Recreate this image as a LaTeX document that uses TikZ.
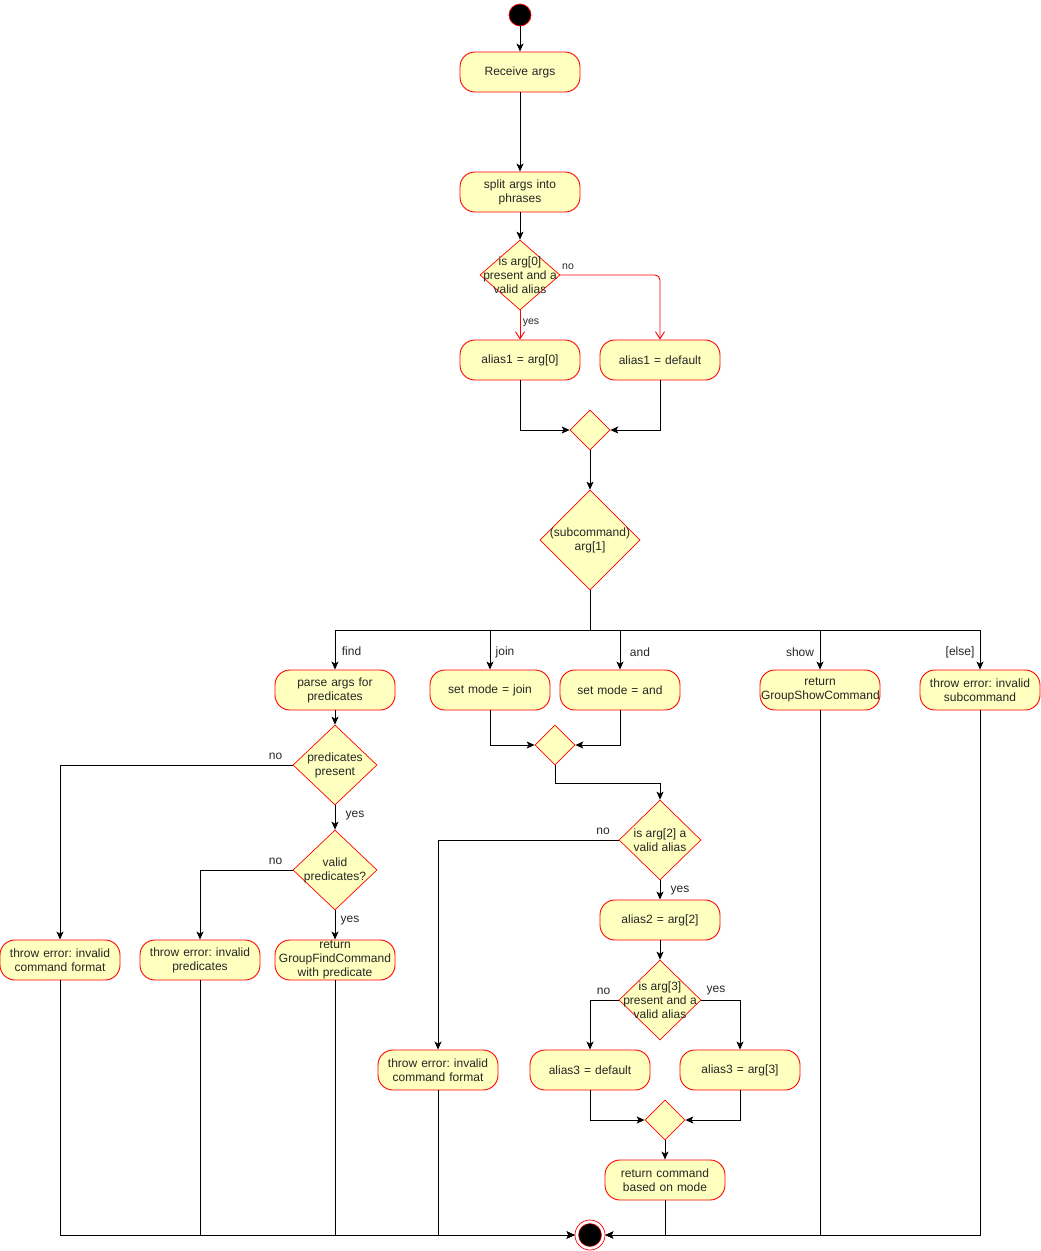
\documentclass[tikz,border=0pt]{standalone}
\usepackage{fontspec}
\setmainfont{Liberation Sans}
\frenchspacing
\usetikzlibrary{arrows.meta, shapes.geometric, positioning}
\definecolor{actFill}{HTML}{FFFFC0}
\definecolor{actLine}{HTML}{FF0000}
\definecolor{mainText}{gray}{0.15}

\begin{document}
\begin{tikzpicture}[x=1pt, y=-1pt, >={Stealth[length=8pt, width=7pt, inset=2pt]},
    action/.style={draw=actLine, fill=actFill, line width=0.9pt, rounded corners=15pt,
        minimum width=120pt, minimum height=40pt, text width=118pt, inner xsep=1pt, inner ysep=0pt,
        align=center, font=\fontsize{12}{14}\selectfont, text=mainText},
    decision/.style={diamond, draw=actLine, fill=actFill, line width=0.7pt, inner sep=0pt},
    dtext/.style={align=center, inner sep=0pt, font=\fontsize{12}{14}\selectfont, text=mainText},
    flow/.style={->, line width=0.9pt},
    guard/.style={-{Straight Barb[length=7pt, width=9pt]}, actLine, line width=0.9pt},
    lbl/.style={inner sep=0pt, font=\fontsize{12}{14}\selectfont, text=mainText},
    small lbl/.style={lbl, font=\fontsize{10.5}{12}\selectfont}]
    \useasboundingbox (0,0) rectangle (1041,1251);

    % Start and first steps
    \node[circle, fill=black, draw=actLine, line width=0.7pt, minimum size=22pt, inner sep=0pt] (start) at (520,15) {};
    \node[action] (recv) at (520,72) {Receive args};
    \node[action] (split) at (520,192) {split args into\\phrases};

    % First alias
    \node[decision, minimum width=80pt, minimum height=70pt] (d1) at (520,275) {};
    \node[dtext] (d1t) at (d1) {is arg[0]\\present and a\\valid alias};
    \node[action] (a1arg) at (520,360) {alias1 = arg[0]};
    \node[action] (a1def) at (660,360) {alias1 = default};
    \node[decision, minimum width=40pt, minimum height=40pt] (m1) at (590,430) {};

    % Subcommand
    \node[decision, minimum width=100pt, minimum height=100pt] (sub) at (590,540) {};
    \node[dtext] (subt) at (sub) {(subcommand)\\arg[1]};
    \coordinate (bus) at (590,630);
    \node[action] (parse) at (335,690) {parse args for\\predicates};
    \node[action] (modejoin) at (490,690) {set mode = join};
    \node[action] (modeand) at (620,690) {set mode = and};
    \node[action] (showcmd) at (820,690) {return\\GroupShowCommand};
    \node[action] (badsub) at (980,690) {throw error: invalid\\subcommand};

    % Find branch
    \node[decision, minimum width=84pt, minimum height=80pt] (pp) at (335,765) {};
    \node[dtext] (ppt) at (pp) {predicates\\present};
    \node[decision, minimum width=84pt, minimum height=80pt] (vp) at (335,870) {};
    \node[dtext] (vpt) at (vp) {valid\\predicates?};
    \node[action] (badfmt) at (60,960) {throw error: invalid\\command format};
    \node[action] (badpred) at (200,960) {throw error: invalid\\predicates};
    \node[action] (findcmd) at (335,960) {return\\GroupFindCommand\\with predicate};

    % Join / and branch
    \node[decision, minimum width=40pt, minimum height=40pt] (m2) at (555,745) {};
    \node[decision, minimum width=82pt, minimum height=80pt] (d3) at (660,840) {};
    \node[dtext] (d3t) at (d3) {is arg[2] a\\valid alias};
    \node[action] (a2arg) at (660,920) {alias2 = arg[2]};
    \node[decision, minimum width=82pt, minimum height=80pt] (d4) at (660,1000) {};
    \node[dtext] (d4t) at (d4) {is arg[3]\\present and a\\valid alias};
    \node[action] (badfmt2) at (438,1070) {throw error: invalid\\command format};
    \node[action] (a3def) at (590,1070) {alias3 = default};
    \node[action] (a3arg) at (740,1070) {alias3 = arg[3]};
    \node[decision, minimum width=40pt, minimum height=40pt] (m3) at (665,1120) {};
    \node[action] (modecmd) at (665,1180) {return command\\based on mode};

    % End
    \node[circle, draw=actLine, fill=white, line width=0.7pt, minimum size=30pt, inner sep=0pt] (stop) at (590,1235) {};
    \node[circle, draw=actLine, fill=black, line width=0.5pt, minimum size=23pt, inner sep=0pt] (stopdot) at (stop) {};

    % Connectors
    \draw[flow] (start) -- (recv);
    \draw[flow] (recv) -- (split);
    \draw[flow] (split) -- (d1);
    \draw[guard] (d1.south) -- (a1arg.north);
    \draw[guard, rounded corners=5pt] (d1.east) -| (a1def.north);
    \draw[flow] (a1arg.south) |- (m1.west);
    \draw[flow] (a1def.south) |- (m1.east);
    \draw[flow] (m1.south) -- (sub.north);
    \foreach \tgt in {parse, modejoin, modeand, showcmd, badsub}
        \draw[flow] (sub.south) |- (\tgt |- bus) -- (\tgt.north);

    \draw[flow] (parse) -- (pp.north);
    \draw[flow] (pp.west) -| (badfmt.north);
    \draw[flow] (pp.south) -- (vp.north);
    \draw[flow] (vp.west) -| (badpred.north);
    \draw[flow] (vp.south) -- (findcmd.north);

    \draw[flow] (modejoin.south) |- (m2.west);
    \draw[flow] (modeand.south) |- (m2.east);
    \draw[flow] (m2.south) -- ++(0,18) -| (d3.north);
    \draw[flow] (d3.west) -| (badfmt2.north);
    \draw[flow] (d3.south) -- (a2arg.north);
    \draw[flow] (a2arg.south) -- (d4.north);
    \draw[flow] (d4.west) -| (a3def.north);
    \draw[flow] (d4.east) -| (a3arg.north);
    \draw[flow] (a3def.south) |- (m3.west);
    \draw[flow] (a3arg.south) |- (m3.east);
    \draw[flow] (m3.south) -- (modecmd.north);

    \foreach \src in {badfmt, badpred, findcmd, badfmt2}
        \draw[flow] (\src.south) |- (stop.west);
    \foreach \src in {modecmd, showcmd, badsub}
        \draw[flow] (\src.south) |- (stop.east);

    % Guards
    \node[small lbl] (d1no) at (568,267) {no};
    \node[small lbl] (d1yes) at (531,323) {yes};
    \node[lbl] (gfind) at (351.5,651.5) {find};
    \node[lbl] (gjoin) at (505,652.5) {join};
    \node[lbl] (gand) at (640,652.5) {and};
    \node[lbl] (gshow) at (800,652.5) {show};
    \node[lbl] (gelse) at (960,652.5) {[else]};
    \node[lbl] (ppno) at (275.5,756) {no};
    \node[lbl] (ppyes) at (355,816) {yes};
    \node[lbl] (vpno) at (275.5,861) {no};
    \node[lbl] (vpyes) at (350,921) {yes};
    \node[lbl] (d3no) at (603,831) {no};
    \node[lbl] (d3yes) at (680,891) {yes};
    \node[lbl] (d4no) at (603.5,991) {no};
    \node[lbl] (d4yes) at (716,991) {yes};
\end{tikzpicture}
\end{document}
